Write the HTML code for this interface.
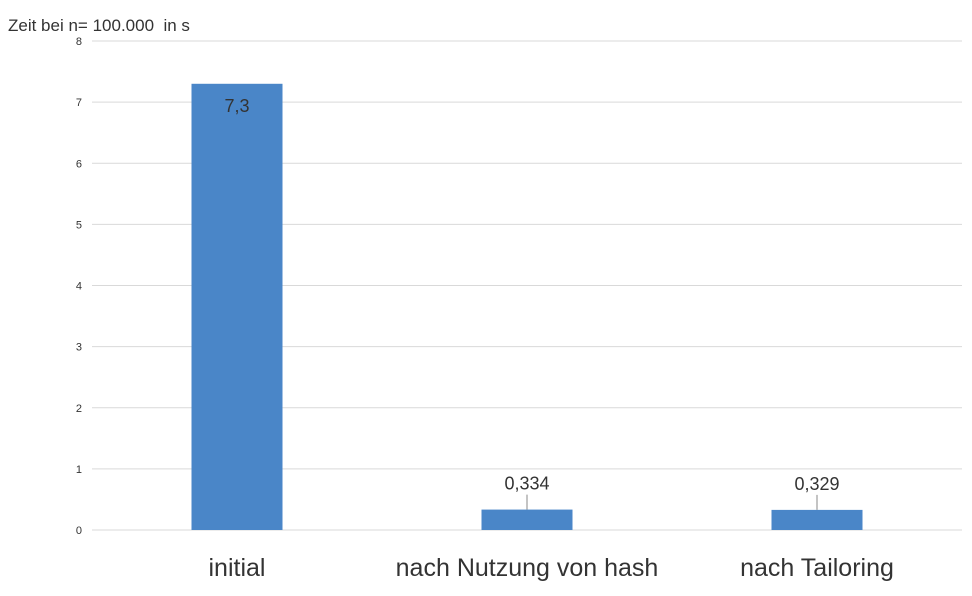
<!DOCTYPE html>
<html><head><meta charset="utf-8"><style>
body{margin:0;background:#fff;}
svg{display:block;font-family:"Liberation Sans",sans-serif;}
</style></head><body>
<svg id="chart" width="972" height="596">
<text x="8" y="31" font-size="17" fill="#333" style="white-space:pre">Zeit bei n= 100.000  in s</text>
<g id="grid"></g><g id="bars"></g>
</svg>
<script>
const categories=["initial","nach Nutzung von hash","nach Tailoring"];
const values=[7.3,0.334,0.329];
const valueLabels=["7,3","0,334","0,329"];
const ticks=[0,1,2,3,4,5,6,7,8];
const x0=92,x1=962,y0=530,yTop=41,vmax=8;
const y=v=>y0-(y0-yTop)*v/vmax;
const bw=(x1-x0)/categories.length;
const cx=i=>x0+bw*(i+0.5);
const NS="http://www.w3.org/2000/svg";
const g=document.getElementById('grid'),b=document.getElementById('bars');
function mk(tag,attrs,parent,txt){const e=document.createElementNS(NS,tag);for(const k in attrs)e.setAttribute(k,attrs[k]);if(txt!=null)e.textContent=txt;parent.appendChild(e);return e;}
ticks.forEach(t=>{
  const l=mk('line',{x1:x0,x2:x1,y1:y(t),y2:y(t),stroke:'#d9d9d9','stroke-width':1},g);
  
  
  const tx=mk('text',{x:82,y:y(t)+4,'font-size':11,fill:'#333','text-anchor':'end'},g,t);
  
  
});
categories.forEach((c,i)=>{
  const w=91,xx=cx(i)-w/2,top=y(values[i]);
  const r=mk('rect',{x:xx,y:top,width:w,height:y0-top,fill:'#4a86c8'},b);
  
  
  if(y0-top>40){
    const t=mk('text',{x:cx(i),y:top+28,'font-size':18,fill:'#333','text-anchor':'middle'},b,valueLabels[i]);
    
    
  } else {
    const ln=mk('line',{x1:cx(i),x2:cx(i),y1:top-15,y2:top,stroke:'#888','stroke-width':1},b);
    
    
    const t=mk('text',{x:cx(i),y:top-20,'font-size':18,fill:'#333','text-anchor':'middle'},b,valueLabels[i]);
    
    
  }
  const cl=mk('text',{x:cx(i),y:576,'font-size':25,fill:'#333','text-anchor':'middle'},b,c);
  
  
});
</script>
</body></html>
